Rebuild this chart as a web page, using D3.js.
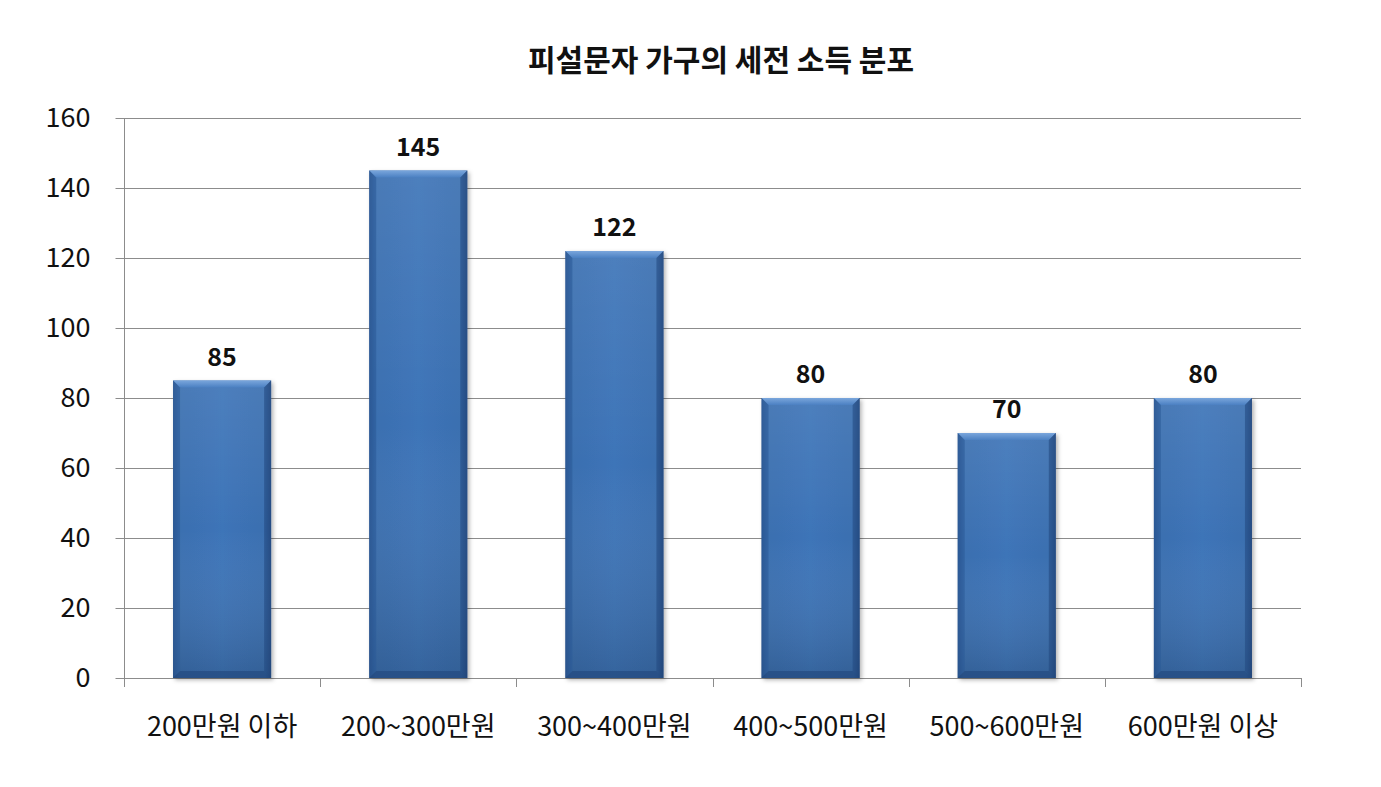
<!DOCTYPE html>
<html><head><meta charset="utf-8">
<script src="https://cdn.jsdelivr.net/npm/d3@7"></script>
<style>body{margin:0;background:#fff}svg{display:block}text{font-family:"Noto Sans CJK KR","Noto Sans",sans-serif}</style>
</head><body>
<svg id="c" width="1381" height="787"></svg>
<script>
const title = "피설문자 가구의 세전 소득 분포";
const categories = ["200만원 이하","200~300만원","300~400만원","400~500만원","500~600만원","600만원 이상"];
const values = [85,145,122,80,70,80];
const yTicks = [0,20,40,60,80,100,120,140,160];

const svg = d3.select("#c");
const m = {left:124, right:1301, top:118, bottom:678};
const x = d3.scaleBand().domain(categories).range([m.left, m.right]).paddingInner(0.5).paddingOuter(0.25);
const xb = d3.scaleBand().domain(categories).range([m.left, m.right]);
const y = d3.scaleLinear().domain([0,160]).range([m.bottom, m.top]);

const defs = svg.append("defs");
const gh = defs.append("linearGradient").attr("id","gh").attr("x1",0).attr("x2",1).attr("y1",0).attr("y2",0);
[[0,"#2a5590"],[0.06,"#3a6fb0"],[0.5,"#3d74b8"],[0.94,"#3a6fb0"],[1,"#284f87"]].forEach(s=>gh.append("stop").attr("offset",s[0]).attr("stop-color",s[1]));
const gv = defs.append("linearGradient").attr("id","gv").attr("x1",0).attr("x2",0).attr("y1",0).attr("y2",1);
[[0,"#ffffff",0.08],[0.5,"#ffffff",0],[1,"#000000",0.15]].forEach(s=>gv.append("stop").attr("offset",s[0]).attr("stop-color",s[1]).attr("stop-opacity",s[2]));
const gt = defs.append("linearGradient").attr("id","gt").attr("x1",0).attr("x2",0).attr("y1",0).attr("y2",1);
[[0,"#7aa6dc"],[1,"#4b80c2"]].forEach(s=>gt.append("stop").attr("offset",s[0]).attr("stop-color",s[1]));
const sh = defs.append("filter").attr("id","sh").attr("x","-10%").attr("y","-10%").attr("width","130%").attr("height","130%");
sh.append("feDropShadow").attr("dx",2).attr("dy",2).attr("stdDeviation",2).attr("flood-color","#000").attr("flood-opacity",0.3);

svg.append("text").attr("x",721).attr("y",71).attr("text-anchor","middle").attr("font-size",30).attr("font-weight","bold").attr("fill","#111").text(title);

// gridlines
svg.append("g").selectAll("line").data(yTicks.filter(d=>d>0)).join("line")
  .attr("x1",m.left).attr("x2",m.right).attr("y1",d=>y(d)+0.5).attr("y2",d=>y(d)+0.5)
  .attr("stroke","#8c8c8c").attr("stroke-width",1);

// y axis
const ya = svg.append("g").attr("transform",`translate(${m.left+0.5},0)`).call(d3.axisLeft(y).tickValues(yTicks).tickSize(9).tickPadding(25));
ya.select(".domain").attr("stroke","#8c8c8c").attr("d",`M0,${m.top}V${m.bottom}`);
ya.selectAll(".tick line").attr("stroke","#8c8c8c");
ya.selectAll(".tick text").attr("font-size",27).attr("fill","#111").attr("font-family","'Noto Sans','Open Sans',sans-serif");

// x axis
const xa = svg.append("g").attr("transform",`translate(0,${m.bottom+0.5})`).call(d3.axisBottom(xb).tickSize(0).tickPadding(38));
xa.select(".domain").attr("stroke","#8c8c8c").attr("d",`M${m.left},0H${m.right}`);
xa.selectAll(".tick text").attr("font-size",27).attr("fill","#111");
svg.append("g").selectAll("line").data(d3.range(categories.length+1)).join("line")
  .attr("x1",i=>Math.round(m.left + i*xb.step())+0.5).attr("x2",i=>Math.round(m.left + i*xb.step())+0.5)
  .attr("y1",m.bottom).attr("y2",m.bottom+9).attr("stroke","#8c8c8c");

// bars
const bars = svg.append("g").selectAll("g").data(categories).join("g");
bars.append("rect").attr("x",d=>x(d)).attr("width",x.bandwidth())
  .attr("y",(d,i)=>y(values[i])).attr("height",(d,i)=>y(0)-y(values[i]))
  .attr("fill","url(#gh)").attr("filter","url(#sh)");
bars.append("rect").attr("x",d=>x(d)).attr("width",x.bandwidth())
  .attr("y",(d,i)=>y(values[i])).attr("height",(d,i)=>y(0)-y(values[i]))
  .attr("fill","url(#gv)");
const bv = 7;
bars.append("path").attr("d",(d,i)=>{const x0=x(d),x1=x0+x.bandwidth(),t=y(values[i]);return `M${x0},${t}H${x1}L${x1-bv},${t+bv}H${x0+bv}Z`;})
  .attr("fill","url(#gt)");
bars.append("path").attr("d",(d,i)=>{const x0=x(d),t=y(values[i]),b=y(0);return `M${x0},${t}L${x0+bv},${t+bv}V${b-bv}L${x0},${b}Z`;}).attr("fill","#2c5a98").attr("opacity",0.6);
bars.append("path").attr("d",(d,i)=>{const x1=x(d)+x.bandwidth(),t=y(values[i]),b=y(0);return `M${x1},${t}L${x1-bv},${t+bv}V${b-bv}L${x1},${b}Z`;}).attr("fill","#234a80").attr("opacity",0.6);
bars.append("path").attr("d",(d,i)=>{const x0=x(d),x1=x0+x.bandwidth(),b=y(0);return `M${x0},${b}H${x1}L${x1-bv},${b-bv}H${x0+bv}Z`;}).attr("fill","#234a80").attr("opacity",0.7);

bars.append("text").attr("x",d=>x(d)+x.bandwidth()/2).attr("y",(d,i)=>y(values[i])-15)
  .attr("text-anchor","middle").attr("font-size",25).attr("font-weight","bold").attr("fill","#111")
  .attr("font-family","'Open Sans','Noto Sans',sans-serif")
  .text((d,i)=>values[i]);
</script>
</body></html>
